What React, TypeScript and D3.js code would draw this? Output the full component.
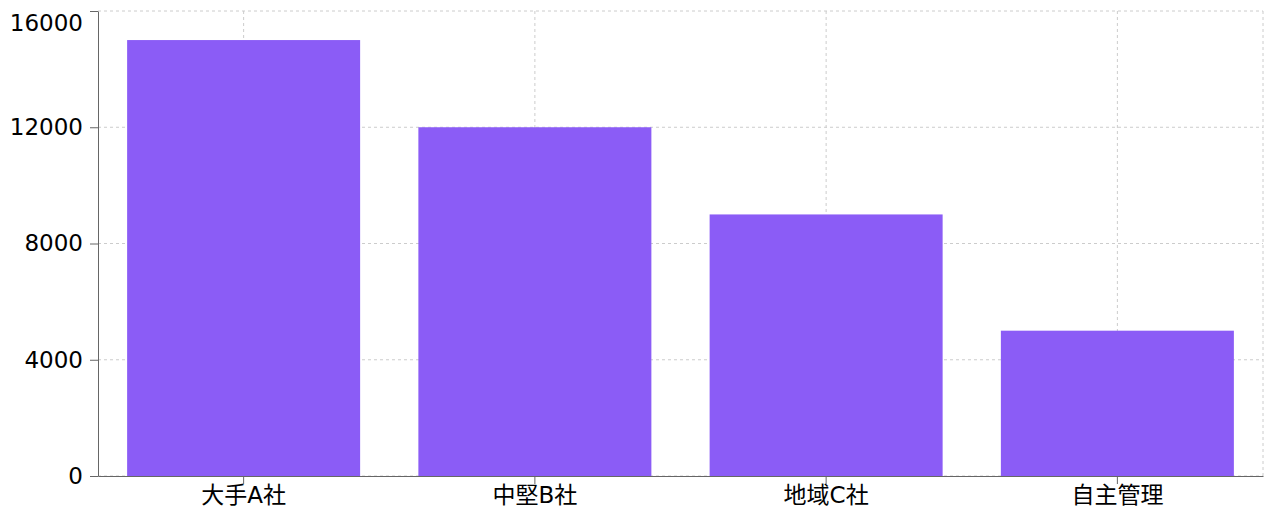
import * as d3 from "d3";
import { useEffect, useRef } from "react";

const companies = ["大手A社", "中堅B社", "地域C社", "自主管理"];
const values = [15000, 12000, 9000, 5000];
const yTicks = [0, 4000, 8000, 12000, 16000];

export default function App() {
  const svgRef = useRef<SVGSVGElement | null>(null);

  useEffect(() => {
    if (!svgRef.current) return;
    const svg = d3.select(svgRef.current);
    svg.selectAll("*").remove();

    const width = 1275;
    const height = 513;
    const margin = { top: 11, right: 12, bottom: 37, left: 98 };
    const innerW = width - margin.left - margin.right;
    const innerH = height - margin.top - margin.bottom;
    const font = "'DejaVu Sans', 'Noto Sans CJK JP', sans-serif";

    svg.attr("width", width).attr("height", height);

    const band = d3.scaleBand().domain(companies).range([0, innerW]);
    const y = d3.scaleLinear().domain([0, 16000]).range([innerH, 0]);

    const g = svg.append("g").attr("transform", `translate(${margin.left},${margin.top})`);

    // grid
    const grid = g.append("g").attr("stroke", "#ccc").attr("stroke-dasharray", "3 3").attr("fill", "none");
    yTicks.forEach((t) => {
      grid.append("line").attr("x1", 0).attr("x2", innerW).attr("y1", y(t)).attr("y2", y(t));
    });
    companies.forEach((c) => {
      const cx = band(c)! + band.bandwidth() / 2;
      grid.append("line").attr("x1", cx).attr("x2", cx).attr("y1", 0).attr("y2", innerH);
    });
    grid.append("line").attr("x1", innerW).attr("x2", innerW).attr("y1", 0).attr("y2", innerH);

    // bars
    const barW = band.bandwidth() * 0.8;
    g.selectAll("rect.bar")
      .data(values)
      .enter()
      .append("rect")
      .attr("class", "bar")
      .attr("x", (_, i) => band(companies[i])! + band.bandwidth() * 0.1)
      .attr("y", (d) => y(d))
      .attr("width", barW)
      .attr("height", (d) => innerH - y(d))
      .attr("fill", "#8b5cf6");

    // x-axis
    const xAxis = g.append("g")
      .attr("transform", `translate(0,${innerH})`)
      .call(d3.axisBottom(band).tickSize(8).tickSizeOuter(0).tickPadding(3));
    xAxis.select(".domain").attr("stroke", "#666");
    xAxis.selectAll(".tick line").attr("stroke", "#666");
    xAxis.selectAll("text").attr("fill", "#000").style("font-size", "23px").style("font-family", font);

    // y-axis
    const yAxis = g.append("g")
      .call(d3.axisLeft(y).tickValues(yTicks).tickSize(8).tickSizeOuter(0).tickPadding(7).tickFormat(d3.format("d")));
    yAxis.select(".domain").attr("stroke", "#666");
    yAxis.selectAll(".tick line").attr("stroke", "#666");
    yAxis.selectAll("text").attr("fill", "#000").style("font-size", "23px").style("font-family", font);
    // top label sits lower so it stays inside the picture
    yAxis.selectAll<SVGTextElement, number>(".tick text")
      .filter((d) => d === 16000)
      .attr("y", 12);
  }, []);

  return (
    <svg ref={svgRef} style={{ position: "absolute", left: 0, top: 0, background: "#fff" }}></svg>
  );
}
